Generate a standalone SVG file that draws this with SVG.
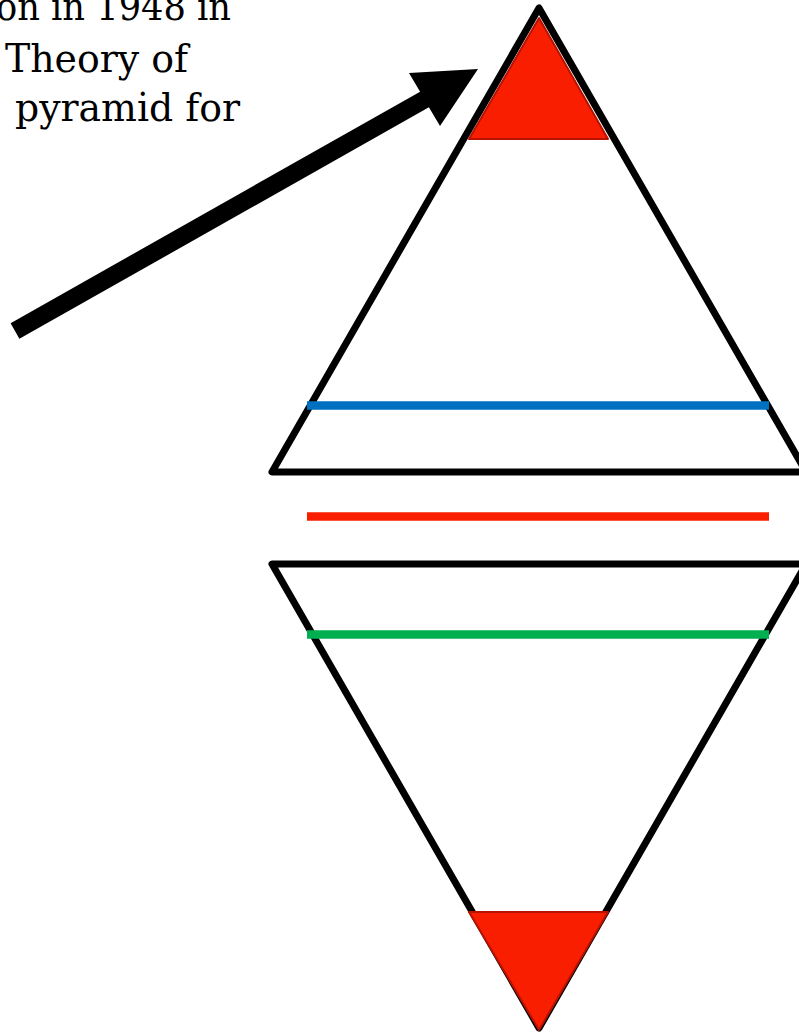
<svg xmlns="http://www.w3.org/2000/svg" width="799" height="1035" viewBox="0 0 799 1035">
<style>
.txt{font-family:"DejaVu Serif","Liberation Serif",serif;font-size:40px;fill:#000}
.outline{fill:none;stroke:#000;stroke-width:7;stroke-linejoin:round}
.band{stroke-width:8.5;fill:none}
.redtri{fill:#F91E00;stroke:#B81200;stroke-width:2;stroke-linejoin:round}
</style>
<rect width="799" height="1035" fill="#fff"/>
<g id="caption">
<text class="txt" x="-4" y="20" textLength="235" lengthAdjust="spacingAndGlyphs">on in 1948 in</text>
<text class="txt" x="5" y="72" textLength="183" lengthAdjust="spacingAndGlyphs">Theory of</text>
<text class="txt" x="15" y="121" textLength="225" lengthAdjust="spacingAndGlyphs">pyramid for</text>
</g>
<g id="top-pyramid">
<path class="outline" d="M539,8 L272,472 L806,472 Z"/>
<path class="redtri" d="M539,18 L469,139 L608,139 Z"/>
</g>
<g id="bottom-pyramid">
<path class="outline" d="M272,564 L806,564 L539,1028 Z"/>
<path class="redtri" d="M469,912 L608,912 L539,1030 Z"/>
</g>
<g id="levels">
<line class="band" x1="307" y1="405.5" x2="769" y2="405.5" stroke="#0070C0"/>
<line class="band" x1="307" y1="516.5" x2="769" y2="516.5" stroke="#F91E00"/>
<line class="band" x1="307" y1="634.5" x2="769" y2="634.5" stroke="#00B050"/>
</g>
<g id="connectors">
<polygon fill="#000" points="10.6,323.2 420.1,91.7 409,73 478,69 440,126 428.9,107.3 19.4,338.8"/>
</g>
</svg>
